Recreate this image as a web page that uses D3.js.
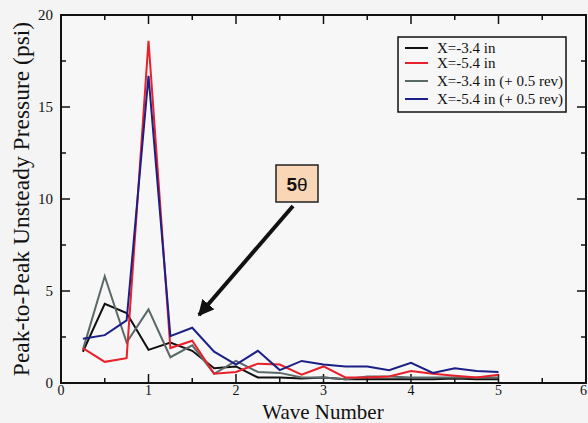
<!DOCTYPE html>
<html><head><meta charset="utf-8">
<script src="https://cdn.jsdelivr.net/npm/d3@7"></script>
<style>
html,body{margin:0;padding:0;background:#f4f4f4;}
svg{display:block;font-family:"Liberation Serif","DejaVu Serif",serif;}
</style></head>
<body><svg id="c" width="588" height="423"></svg>
<script>
const waveNumbers = [0.25,0.5,0.75,1.0,1.25,1.5,1.75,2.0,2.25,2.5,2.75,3.0,3.25,3.5,3.75,4.0,4.25,4.5,4.75,5.0];
const seriesNames = ["X=-3.4 in","X=-5.4 in","X=-3.4 in (+ 0.5 rev)","X=-5.4 in (+ 0.5 rev)"];
const x34 =    [1.7,4.3,3.8,1.8,2.2,1.75,0.8,0.9,0.3,0.3,0.25,0.3,0.2,0.2,0.2,0.2,0.2,0.25,0.2,0.2];
const x54 =    [1.9,1.15,1.35,18.6,1.9,2.3,0.5,0.6,1.05,1.0,0.45,0.9,0.3,0.3,0.35,0.65,0.5,0.4,0.3,0.45];
const x34rev = [1.8,5.8,2.2,4.0,1.4,2.05,0.5,1.2,0.6,0.55,0.3,0.3,0.2,0.35,0.35,0.3,0.3,0.3,0.3,0.3];
const x54rev = [2.4,2.6,3.4,16.7,2.55,3.0,1.7,1.0,1.75,0.7,1.2,1.0,0.9,0.9,0.7,1.1,0.55,0.8,0.65,0.6];
const seriesColors = ["#111111","#e8202a","#5b6868","#1c1f86"];
const xTicks = [0,1,2,3,4,5,6];
const yTicks = [0,5,10,15,20];
const annotationLabel = "5θ";

const svg = d3.select("#c");
const L=61, R=586, T=15, B=383;
const x = d3.scaleLinear().domain([0,6]).range([L,R]);
const y = d3.scaleLinear().domain([0,20]).range([B,T]);

const data = [x34,x54,x34rev,x54rev];

// frame
svg.append("rect").attr("x",L).attr("y",T).attr("width",R-L).attr("height",B-T)
  .attr("fill","#f7f7f7").attr("stroke","#111").attr("stroke-width",2);

// ticks (inward, mirrored)
const g = svg.append("g").attr("stroke","#111").attr("stroke-width",1.5);
d3.range(0,6.01,0.5).forEach(v=>{
  const len = (Math.abs(v-Math.round(v))<1e-6)?9:5;
  if(v<=0||v>=6) return;
  g.append("line").attr("x1",x(v)).attr("x2",x(v)).attr("y1",B).attr("y2",B-len);
  g.append("line").attr("x1",x(v)).attr("x2",x(v)).attr("y1",T).attr("y2",T+len);
});
d3.range(0,20.01,2.5).forEach(v=>{
  const len = (v%5===0)?9:5;
  if(v<=0||v>=20) return;
  g.append("line").attr("x1",L).attr("x2",L+len).attr("y1",y(v)).attr("y2",y(v));
  g.append("line").attr("x1",R).attr("x2",R-len).attr("y1",y(v)).attr("y2",y(v));
});

// tick labels
svg.append("g").selectAll("text").data(xTicks).join("text")
  .attr("x",d=>d===6?x(d)+1:x(d)).attr("y",395)
  .attr("text-anchor",d=>d===6?"end":"middle")
  .attr("font-size",14).attr("fill","#111").text(d=>d);
svg.append("g").selectAll("text").data(yTicks).join("text")
  .attr("x",53).attr("y",d=>y(d)+5).attr("text-anchor","end")
  .attr("font-size",15).attr("fill","#111").text(d=>d);

// axis titles
svg.append("text").attr("x",323).attr("y",419).attr("text-anchor","middle")
  .attr("font-size",21).attr("fill","#111").text("Wave Number");
svg.append("text").attr("transform","translate(29,199) rotate(-90)").attr("text-anchor","middle")
  .attr("font-size",23.5).attr("fill","#111").text("Peak-to-Peak Unsteady Pressure (psi)");

// lines
const line = d3.line().x((d,i)=>x(waveNumbers[i])).y(d=>y(d));
const order=[0,2,1,3];
order.forEach(k=>{
  svg.append("path").datum(data[k]).attr("d",line).attr("fill","none")
    .attr("stroke",seriesColors[k]).attr("stroke-width",2).attr("stroke-linejoin","miter");
});

// legend
const lg = svg.append("g");
lg.append("rect").attr("x",398).attr("y",37).attr("width",168).attr("height",75)
  .attr("fill","#f7f7f7").attr("stroke","#111").attr("stroke-width",1.5);
const rowsY=[48,63,81,99];
seriesNames.forEach((n,i)=>{
  lg.append("line").attr("x1",405).attr("x2",428).attr("y1",rowsY[i]).attr("y2",rowsY[i])
    .attr("stroke",seriesColors[i]).attr("stroke-width",2);
  lg.append("text").attr("x",437).attr("y",rowsY[i]+5).attr("font-size",15).attr("fill","#111").text(n);
});

// annotation
svg.append("defs").append("marker").attr("id","ah").attr("viewBox","0 0 10 10")
  .attr("refX",9).attr("refY",5).attr("markerWidth",4).attr("markerHeight",4)
  .attr("orient","auto").append("path").attr("d","M0,0 L10,5 L0,10 Z").attr("fill","#111");
svg.append("line").attr("x1",293).attr("y1",206).attr("x2",199).attr("y2",315)
  .attr("stroke","#111").attr("stroke-width",4).attr("marker-end","url(#ah)");
svg.append("rect").attr("x",276).attr("y",165).attr("width",42).attr("height",37)
  .attr("fill","#f8d6b6").attr("stroke","#222").attr("stroke-width",1.5);
svg.append("text").attr("x",297).attr("y",191).attr("text-anchor","middle")
  .attr("font-family","Liberation Sans, Arial, sans-serif").attr("font-size",19).attr("fill","#111")
  .html('<tspan font-weight="bold">5</tspan><tspan>θ</tspan>');
</script></body></html>
